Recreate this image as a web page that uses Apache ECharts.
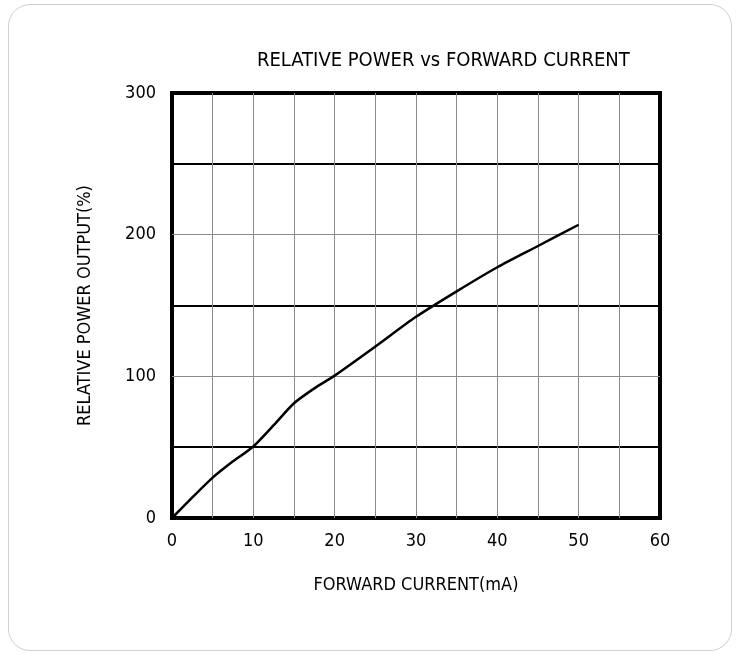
<!DOCTYPE html>
<html>
<head>
<meta charset="utf-8">
<script src="https://cdn.jsdelivr.net/npm/echarts@6/dist/echarts.min.js"></script>
<style>
html,body{margin:0;padding:0;background:#fff;}
#card{position:absolute;left:8px;top:4px;width:724px;height:647px;border:1px solid #cfcfcf;border-radius:22px;box-sizing:border-box;}
#chart{position:absolute;left:0;top:0;width:740px;height:654px;}
</style>
</head>
<body>
<div id="card"></div>
<div id="chart"></div>
<script>
const titleText = 'RELATIVE POWER vs FORWARD CURRENT';
const xName = 'FORWARD CURRENT(mA)';
const yName = 'RELATIVE POWER OUTPUT(%)';
const current = [0, 2.5, 5, 7.5, 10, 12.5, 15, 17.5, 20, 25, 30, 35, 40, 45, 50];
const power   = [0, 14.5, 28.5, 40, 50.5, 65.5, 81, 91.5, 100.5, 121, 142, 160, 177, 192, 207];
const xTicks = [0, 10, 20, 30, 40, 50, 60];
const yTicks = [0, 100, 200, 300];

const font = 'DejaVu Sans Condensed, Liberation Sans, sans-serif';
const chart = echarts.init(document.getElementById('chart'), null, {renderer: 'canvas'});
chart.setOption({
  animation: false,
  title: {
    text: titleText, left: 252, top: 46,
    textStyle: {fontFamily: font, fontSize: 20, fontWeight: 'normal', color: '#000'}
  },
  grid: {left: 172, right: 80, top: 93, bottom: 136, show: true, borderColor: '#000', borderWidth: 4, backgroundColor: 'transparent'},
  xAxis: [{
    type: 'value', min: xTicks[0], max: xTicks[xTicks.length - 1], interval: 10,
    name: xName, nameLocation: 'middle', nameGap: 58,
    nameTextStyle: {fontFamily: font, fontSize: 18, color: '#000'},
    axisLine: {show: false}, axisTick: {show: false},
    axisLabel: {fontFamily: font, fontSize: 18, color: '#000', margin: 14},
    splitLine: {show: false}
  }, {
    type: 'value', min: 0, max: 60, interval: 5, position: 'bottom',
    axisLine: {show: false}, axisTick: {show: false}, axisLabel: {show: false},
    splitLine: {show: true, showMinLine: false, showMaxLine: false, lineStyle: {color: '#8a8a8a', width: 1}}
  }],
  yAxis: [{
    type: 'value', min: yTicks[0], max: yTicks[yTicks.length - 1], interval: 100,
    name: yName, nameLocation: 'middle', nameGap: 78, nameRotate: 90,
    nameTextStyle: {fontFamily: font, fontSize: 18, color: '#000'},
    axisLine: {show: false}, axisTick: {show: false},
    axisLabel: {fontFamily: font, fontSize: 18, color: '#000', margin: 16},
    splitLine: {show: true, showMinLine: false, showMaxLine: false, lineStyle: {color: '#8a8a8a', width: 1}}
  }, {
    type: 'value', min: 0, max: 300, interval: 50, position: 'left',
    axisLine: {show: false}, axisTick: {show: false}, axisLabel: {show: false},
    splitLine: {show: true, lineStyle: {color: ['rgba(0,0,0,0)', '#000'], width: 2}}
  }],
  series: [{
    type: 'line', xAxisIndex: 0, yAxisIndex: 0,
    data: current.map((c, i) => [c, power[i]]),
    smooth: 0.25, showSymbol: false, symbol: 'none',
    lineStyle: {color: '#000', width: 2.5}
  }]
});
</script>
</body>
</html>
